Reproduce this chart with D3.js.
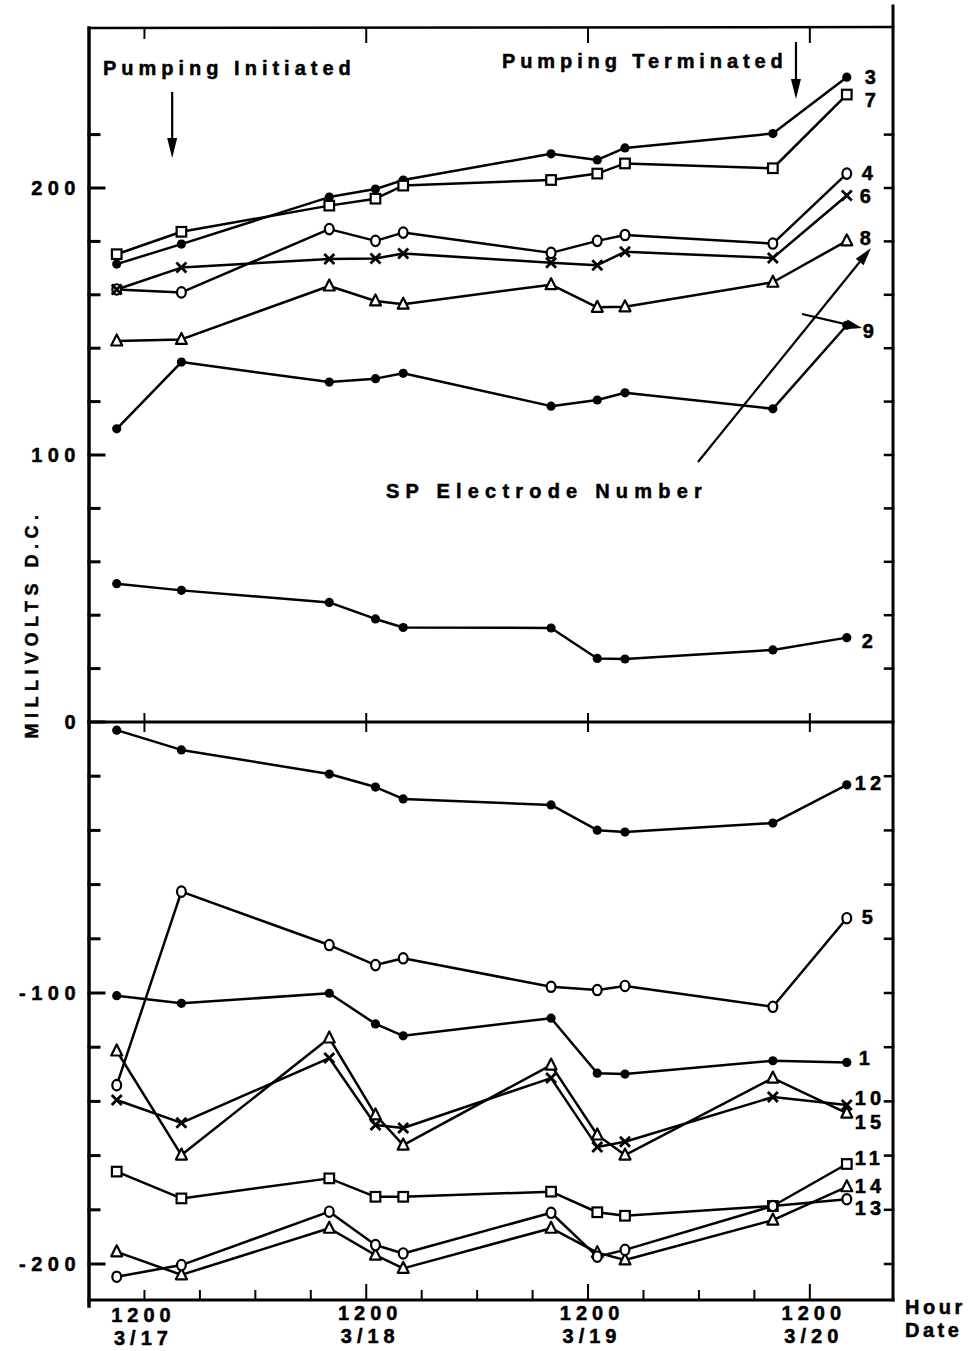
<!DOCTYPE html>
<html>
<head>
<meta charset="utf-8">
<script src="https://cdn.jsdelivr.net/npm/d3@7/dist/d3.min.js"></script>
<style>
  html, body { margin: 0; padding: 0; background: #fff; }
  svg { display: block; }
  text { font-family: "Liberation Sans", Arial, Helvetica, sans-serif; font-weight: bold; fill: #000;
         stroke: #000; stroke-width: 0.5px; }
</style>
</head>
<body>
<svg id="chart" width="973" height="1351"></svg>
<script>
// Sampling times, hours after 1200 on 3/17
const hours = [-3, 4, 20, 25, 28, 44, 49, 52, 68, 76];

// SP electrode readings, millivolts D.C.
const e3  = [171.5, 179, 196.6, 199.6, 203, 212.8, 210.5, 215, 220.4, 241.5];
const e7  = [175.2, 183.6, 193.4, 196, 200.9, 203, 205.4, 209.2, 207.4, 235];
const e4  = [162, 160.9, 184.6, 180.2, 183.3, 175.7, 180.2, 182.4, 179.2, 205.4];
const e6  = [162, 170.2, 173.4, 173.6, 175.5, 172, 171.1, 176.1, 173.8, 197.2];
const e8  = [142.7, 143.3, 163.3, 157.7, 156.5, 163.8, 155.3, 155.5, 164.7, 180.2];
const e9  = [109.8, 134.8, 127.3, 128.6, 130.6, 118.3, 120.6, 123.3, 117.3, 148.6];
const e2  = [51.8, 49.3, 44.8, 38.6, 35.4, 35.2, 23.8, 23.6, 27, 31.6];
const e12 = [-3, -10.3, -19.2, -24, -28.4, -30.6, -39.9, -40.6, -37.3, -23.2];
const e5  = [-134, -62.6, -82.3, -89.7, -87.2, -97.7, -98.9, -97.4, -105.1, -72.4];
const e1  = [-101, -103.8, -100.1, -111.4, -115.8, -109.3, -129.6, -129.9, -125, -125.6];
const e10 = [-139.5, -147.9, -124, -148.7, -149.8, -131.4, -156.8, -154.9, -138.4, -141.3];
const e15 = [-121.4, -159.8, -116.6, -145, -156.1, -126.6, -152.4, -159.8, -131.4, -144.3];
const e11 = [-165.9, -175.8, -168.4, -175.2, -175.2, -173.3, -180.9, -182.2, -178.6, -163.1];
const e14 = [-195.5, -204, -186.8, -196.7, -201.6, -186.8, -195.8, -198.5, -183.8, -171.5];
const e13 = [-204.7, -200.4, -180.7, -193, -196.1, -181.1, -197.3, -194.8, -178.6, -176.1];

const electrodeNames = ["3", "7", "4", "6", "8", "9", "2", "12", "5", "1", "10", "15", "11", "14", "13"];
const electrodeValues = [e3, e7, e4, e6, e8, e9, e2, e12, e5, e1, e10, e15, e11, e14, e13];
const electrodeSymbols = ["dot", "square", "circle", "x", "tri", "dot", "dot",
                          "dot", "circle", "dot", "x", "tri", "square", "tri", "circle"];

// Axis labelling
const yTickLabels = [200, 100, 0, -100, -200];
const hourTicks = [0, 6, 12, 18, 24, 30, 36, 42, 48, 54, 60, 66, 72];
const noonHours = [0, 24, 48, 72];
const dateLabels = ["3/17", "3/18", "3/19", "3/20"];
const pumpingStart = 3;     // hours
const pumpingEnd = 70.5;    // hours

// ---- layout ----
const svg = d3.select("#chart");
const padL = 89, padR = 893, padT = 28, padB = 1300;

const x = d3.scaleLinear().domain([-6, 81]).range([padL, padR]);
const y = d3.scaleLinear().domain([-200, 0, 200]).range([1264, 722, 188]);

const ink = "#000";

// label nudges (dx, dy) for the electrode numbers at the right end
const labelNudge = {
  "3": [18, 0], "7": [18, 5], "4": [15, -1], "6": [13, 1], "8": [13, -3],
  "9": [16, 6], "2": [15, 3], "12": [8, -2], "5": [15, -1], "1": [12, -4],
  "10": [8, -7], "15": [8, 9], "11": [8, -6], "14": [8, -1], "13": [8, 9]
};

// ---- frame ----
const frame = svg.append("g").attr("stroke", ink).attr("fill", "none").attr("stroke-linecap", "square");
frame.append("line").attr("x1", padL).attr("x2", padL).attr("y1", padT).attr("y2", padB + 6).attr("stroke-width", 3.5);
frame.append("line").attr("x1", padR).attr("x2", padR).attr("y1", 6).attr("y2", padB).attr("stroke-width", 3);
frame.append("line").attr("x1", padL).attr("x2", padR).attr("y1", padT).attr("y2", padT - 1).attr("stroke-width", 2.5);
frame.append("line").attr("x1", padL).attr("x2", padR).attr("y1", padB).attr("y2", padB).attr("stroke-width", 3);
frame.append("line").attr("x1", padL).attr("x2", padR).attr("y1", y(0)).attr("y2", y(0)).attr("stroke-width", 3);

// vertical ticks every 20 mV
const mvTicks = d3.range(-200, 221, 20);
frame.selectAll(".lt").data(mvTicks).join("line")
  .attr("x1", padL).attr("x2", d => padL + (d % 100 === 0 ? 15 : 10))
  .attr("y1", d => y(d)).attr("y2", d => y(d)).attr("stroke-width", 3);
frame.selectAll(".rt").data(mvTicks.filter(d => d !== 0)).join("line")
  .attr("x1", padR).attr("x2", padR - 8)
  .attr("y1", d => y(d)).attr("y2", d => y(d)).attr("stroke-width", 2.5);

// hour ticks along the bottom
frame.selectAll(".bt").data(hourTicks).join("line")
  .attr("x1", d => x(d)).attr("x2", d => x(d))
  .attr("y1", padB).attr("y2", d => padB - (d > 0 && d % 24 === 0 ? 15 : 9))
  .attr("stroke-width", 2);
// noon ticks on the top border and across the zero line
frame.selectAll(".tt").data(noonHours).join("line")
  .attr("x1", d => x(d)).attr("x2", d => x(d))
  .attr("y1", padT).attr("y2", d => padT + (d === 0 ? 10 : 14)).attr("stroke-width", 2);
frame.selectAll(".zt").data(noonHours).join("line")
  .attr("x1", d => x(d)).attr("x2", d => x(d))
  .attr("y1", y(0) - 8).attr("y2", y(0) + 9).attr("stroke-width", 2);

// ---- axis text ----
svg.selectAll(".yl").data(yTickLabels).join("text")
  .attr("x", 81).attr("y", d => y(d) + 7)
  .attr("text-anchor", "end")
  .attr("font-size", 20).attr("letter-spacing", 5.5)
  .text(d => String(d));

svg.append("text")
  .attr("transform", "translate(38, 624) rotate(-90)")
  .attr("text-anchor", "middle")
  .attr("font-size", 18).attr("letter-spacing", 5.5)
  .text("MILLIVOLTS D.C.");

noonHours.forEach((h, i) => {
  const off = i === 0 ? 2 : 0;
  svg.append("text").attr("x", x(h) + (i === 0 ? -1 : 4)).attr("y", padB + 20 + off)
    .attr("text-anchor", "middle").attr("font-size", 20).attr("letter-spacing", 5)
    .text("1200");
  svg.append("text").attr("x", x(h) + (i === 0 ? -1 : 4)).attr("y", padB + 43 + off)
    .attr("text-anchor", "middle").attr("font-size", 20).attr("letter-spacing", 5)
    .text(dateLabels[i]);
});
svg.append("text").attr("x", 905).attr("y", padB + 14).attr("font-size", 20).attr("letter-spacing", 3.5).text("Hour");
svg.append("text").attr("x", 905).attr("y", padB + 37).attr("font-size", 20).attr("letter-spacing", 3.5).text("Date");

// ---- series ----
const line = d3.line().x((d, i) => x(hours[i])).y(d => y(d));
const plot = svg.append("g");

electrodeValues.forEach(vals => {
  plot.append("path").attr("d", line(vals))
    .attr("fill", "none").attr("stroke", ink).attr("stroke-width", 2.5).attr("stroke-linejoin", "round");
});

function drawSymbol(g, kind, cx, cy) {
  if (kind === "dot") {
    g.append("circle").attr("cx", cx).attr("cy", cy).attr("r", 4.6).attr("fill", ink);
  } else if (kind === "circle") {
    g.append("ellipse").attr("cx", cx).attr("cy", cy).attr("rx", 4.4).attr("ry", 5.2)
      .attr("fill", "#fff").attr("stroke", ink).attr("stroke-width", 2.2);
  } else if (kind === "square") {
    g.append("rect").attr("x", cx - 4.8).attr("y", cy - 4.8).attr("width", 9.6).attr("height", 9.6)
      .attr("fill", "#fff").attr("stroke", ink).attr("stroke-width", 2.2);
  } else if (kind === "tri") {
    g.append("path").attr("d", `M${cx},${cy - 6.5}L${cx + 5.5},${cy + 4.5}L${cx - 5.5},${cy + 4.5}Z`)
      .attr("fill", "#fff").attr("stroke", ink).attr("stroke-width", 2.2).attr("stroke-linejoin", "round");
  } else if (kind === "x") {
    g.append("path").attr("d", `M${cx - 5},${cy - 5}L${cx + 5},${cy + 5}M${cx - 5},${cy + 5}L${cx + 5},${cy - 5}`)
      .attr("stroke", ink).attr("stroke-width", 2.8);
  }
}

electrodeValues.forEach((vals, k) => {
  const g = plot.append("g");
  vals.forEach((v, i) => drawSymbol(g, electrodeSymbols[k], x(hours[i]), y(v)));
  const last = vals[vals.length - 1];
  const [dx, dy] = labelNudge[electrodeNames[k]];
  svg.append("text")
    .attr("x", x(hours[hours.length - 1]) + dx)
    .attr("y", y(last) + dy + 7)
    .attr("font-size", 20).attr("letter-spacing", 4)
    .text(electrodeNames[k]);
});

// ---- annotations ----
function arrow(x1, y1, x2, y2, len, half) {
  const a = Math.atan2(y2 - y1, x2 - x1);
  const bx = x2 - len * Math.cos(a), by = y2 - len * Math.sin(a);
  const nx = -Math.sin(a) * half, ny = Math.cos(a) * half;
  svg.append("line").attr("x1", x1).attr("y1", y1).attr("x2", bx).attr("y2", by)
    .attr("stroke", ink).attr("stroke-width", 2.2);
  svg.append("path").attr("d", `M${x2},${y2}L${bx + nx},${by + ny}L${bx - nx},${by - ny}Z`).attr("fill", ink);
}

svg.append("text").attr("x", 103).attr("y", 75).attr("font-size", 20).attr("letter-spacing", 5)
  .text("Pumping Initiated");
arrow(x(pumpingStart), 92, x(pumpingStart), 158, 20, 5);

svg.append("text").attr("x", 502).attr("y", 68).attr("font-size", 20).attr("letter-spacing", 4.9)
  .text("Pumping Terminated");
arrow(x(pumpingEnd), 42, x(pumpingEnd), 99, 20, 5);

svg.append("text").attr("x", 386).attr("y", 498).attr("font-size", 20).attr("letter-spacing", 6.2)
  .text("SP Electrode Number");
arrow(698, 462, 871, 248, 18, 5);
arrow(802, 314, 862, 328, 16, 5);
</script>
</body>
</html>
